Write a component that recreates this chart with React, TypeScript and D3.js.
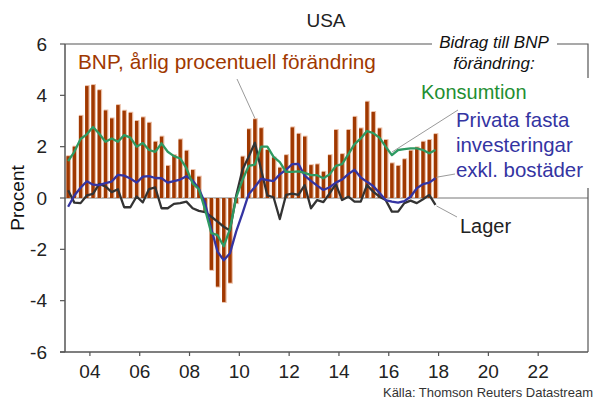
import React, { useEffect, useRef } from 'react';
import * as d3 from 'd3';

// quarterly, 2003Q1 - 2017Q4
const startYear = 2003;
const gdp = [
  1.63, 2.0, 3.2, 4.36,
  4.4, 4.2, 3.41, 3.1,
  3.62, 3.4, 3.32, 3.0,
  3.14, 2.93, 2.19, 2.39,
  1.25, 1.67, 2.28, 1.84,
  1.09, 0.83, -0.5, -2.8,
  -3.45, -4.05, -3.3, -0.2,
  1.61, 2.68, 3.07, 2.72,
  1.87, 1.58, 1.18, 1.67,
  2.75, 2.5, 2.39, 1.28,
  1.31, 1.02, 1.67, 2.65,
  1.71, 2.65, 3.16, 2.71,
  3.75, 3.35, 2.71, 2.26,
  1.35, 1.25, 1.51, 1.84,
  1.97, 2.19, 2.26, 2.49,
];
const konsumtion = [
  1.44, 1.8, 2.3, 2.48,
  2.77, 2.5, 2.19, 2.32,
  2.19, 2.45, 2.35, 2.0,
  2.14, 1.87, 1.8, 2.13,
  1.8, 1.63, 1.54, 1.16,
  0.57, 0.34, -0.45, -1.37,
  -1.45, -1.88, -1.2, 0.02,
  0.7, 1.25, 1.3, 2.0,
  2.0, 1.6, 1.4, 1.02,
  1.02, 1.04, 0.98, 0.89,
  0.89, 0.77, 0.92, 1.25,
  1.32, 1.7, 2.1, 2.32,
  2.61, 2.53, 2.35, 2.0,
  1.67, 1.87, 1.9, 1.93,
  1.93, 1.87, 1.74, 1.87,
];
const investeringar = [
  -0.34, 0.1, 0.4, 0.65,
  0.52, 0.5, 0.58, 0.64,
  0.9, 0.87, 0.76, 0.6,
  0.83, 0.85, 0.78, 0.77,
  0.6, 0.66, 0.72, 0.85,
  0.68, 0.36, -0.2, -1.2,
  -2.09, -2.43, -2.15, -1.3,
  -0.6, 0.15, 0.43, 0.75,
  0.7, 0.66, 0.92, 1.1,
  1.32, 1.33, 0.87, 0.67,
  0.48, 0.31, 0.42, 0.6,
  0.72, 0.93, 1.1, 0.8,
  0.63, 0.47, 0.2, -0.08,
  -0.14, -0.18, -0.12, 0.05,
  0.38, 0.54, 0.6, 0.77,
];
const lager = [
  0.3, -0.18, -0.2, 0.1,
  0.16, 0.55, 0.45, 0.23,
  0.34, -0.36, -0.36, 0.06,
  -0.17, 0.35, 0.41, -0.4,
  -0.4, -0.23, -0.2, -0.14,
  -0.4, -0.5, -0.55, -0.73,
  -0.92, -1.12, -1.27, 0.1,
  1.1, 1.61, 2.15, 1.1,
  0.1, 0.03, -0.82, 0.12,
  0.17, 0.12, 0.5, -0.4,
  -0.08, -0.16, 0.18, 0.54,
  -0.08, 0.05, -0.14, -0.14,
  0.5, 0.25, 0.05, -0.08,
  -0.53, -0.53, -0.2, -0.1,
  -0.2, -0.05, 0.12, -0.27,
];
const yTicks = [6, 4, 2, 0, -2, -4, -6];
const xTicks = [2004, 2006, 2008, 2010, 2012, 2014, 2016, 2018, 2020, 2022];

const font = 'Liberation Sans, Arial, sans-serif';
const brown = '#a03800';
const green = '#2e9a62';
const blue = '#3434a2';
const dark = '#333333';
const grey = '#9a9a9a';

const App = () => {
  const svgRef = useRef<SVGSVGElement>(null);

  useEffect(() => {
    const svg = d3.select(svgRef.current);
    svg.selectAll('*').remove();

    const left = 65, right = 588, top = 44, bottom = 352;
    const x = d3.scaleLinear().domain([2003, 2024]).range([left, right]);
    const y = d3.scaleLinear().domain([-6, 6]).range([bottom, top]);
    const qx = (i: number) => x(startYear + i * 0.25 + 0.125);

    // zero line
    svg.append('line')
      .attr('x1', left).attr('x2', right)
      .attr('y1', y(0)).attr('y2', y(0))
      .attr('stroke', '#777').attr('stroke-width', 1);

    // bars with light edge
    const bw = 3.4;
    svg.append('g').selectAll('rect')
      .data(gdp)
      .enter()
      .append('rect')
      .attr('x', (d, i) => qx(i) - bw / 2)
      .attr('y', (d) => Math.min(y(d), y(0)) - (d > 0 ? 1 : 0))
      .attr('width', bw + 1.2)
      .attr('height', (d) => Math.abs(y(d) - y(0)) + 1)
      .attr('fill', '#ebbfa6');
    svg.append('g').selectAll('rect')
      .data(gdp)
      .enter()
      .append('rect')
      .attr('x', (d, i) => qx(i) - bw / 2)
      .attr('y', (d) => Math.min(y(d), y(0)))
      .attr('width', bw)
      .attr('height', (d) => Math.abs(y(d) - y(0)))
      .attr('fill', brown);

    const line = d3.line<number>()
      .x((d, i) => qx(i))
      .y((d) => y(d));

    [[lager, dark], [investeringar, blue], [konsumtion, green]].forEach(([vals, col]) => {
      svg.append('path')
        .datum(vals as number[])
        .attr('d', line)
        .attr('fill', 'none')
        .attr('stroke', col as string)
        .attr('stroke-width', 2.3)
        .attr('stroke-linejoin', 'round');
    });

    // frame
    svg.append('line')
      .attr('x1', left).attr('x2', left).attr('y1', top).attr('y2', bottom)
      .attr('stroke', '#555').attr('stroke-width', 1.5);
    svg.append('line')
      .attr('x1', left - 5).attr('x2', right).attr('y1', bottom).attr('y2', bottom)
      .attr('stroke', '#555').attr('stroke-width', 1.5);
    svg.append('line')
      .attr('x1', left).attr('x2', 432).attr('y1', top).attr('y2', top)
      .attr('stroke', '#555').attr('stroke-width', 1.2);
    svg.append('polyline')
      .attr('points', `557,${top} ${right},${top} ${right},78`)
      .attr('fill', 'none').attr('stroke', '#555').attr('stroke-width', 1.2);
    svg.append('line')
      .attr('x1', right).attr('x2', right).attr('y1', 188).attr('y2', bottom)
      .attr('stroke', '#555').attr('stroke-width', 1.2);

    // y axis
    yTicks.forEach((t) => {
      svg.append('line')
        .attr('x1', left - 5).attr('x2', left)
        .attr('y1', y(t)).attr('y2', y(t))
        .attr('stroke', '#555').attr('stroke-width', 1.2);
      svg.append('text')
        .attr('x', 47).attr('y', y(t)).attr('dy', '0.35em')
        .attr('text-anchor', 'end')
        .attr('font-size', 19).attr('fill', '#222')
        .text(t);
    });

    // x axis
    xTicks.forEach((t) => {
      svg.append('line')
        .attr('x1', x(t)).attr('x2', x(t))
        .attr('y1', bottom).attr('y2', bottom + 4)
        .attr('stroke', '#555').attr('stroke-width', 1.2);
      svg.append('text')
        .attr('x', x(t)).attr('y', bottom + 26)
        .attr('text-anchor', 'middle')
        .attr('font-size', 19).attr('fill', '#222')
        .text(String(t % 100).padStart(2, '0'));
    });

    svg.append('text')
      .attr('x', 326).attr('y', 27)
      .attr('text-anchor', 'middle')
      .attr('font-size', 19).attr('fill', '#222')
      .text('USA');

    svg.append('text')
      .attr('transform', `translate(24,${y(0)}) rotate(-90)`)
      .attr('text-anchor', 'middle')
      .attr('font-size', 19).attr('fill', '#111')
      .text('Procent');

    // legend header
    svg.append('text')
      .attr('x', 494).attr('y', 48)
      .attr('text-anchor', 'middle')
      .attr('font-size', 17).attr('font-style', 'italic').attr('fill', '#111')
      .text('Bidrag till BNP');
    svg.append('text')
      .attr('x', 494).attr('y', 69)
      .attr('text-anchor', 'middle')
      .attr('font-size', 17).attr('font-style', 'italic').attr('fill', '#111')
      .text('förändring:');

    // leader lines
    const last = gdp.length - 1;
    const leaders = [
      [237, 79, qx(30), y(gdp[30]) - 1],
      [458, 110, qx(last - 7), y(konsumtion[last - 7]) - 3],
      [455, 174, qx(last) + 1, y(investeringar[last]) - 1],
      [457, 217, qx(last) + 1, y(lager[last]) + 1],
    ];
    leaders.forEach(([x1, y1, x2, y2]) => {
      svg.append('line')
        .attr('x1', x1).attr('y1', y1).attr('x2', x2).attr('y2', y2)
        .attr('stroke', grey).attr('stroke-width', 1);
    });

    const label = (tx: number, ty: number, txt: string, col: string, size = 20) =>
      svg.append('text')
        .attr('x', tx).attr('y', ty)
        .attr('font-size', size).attr('fill', col)
        .text(txt);

    label(78, 69, 'BNP, årlig procentuell förändring', brown, 20.8);
    label(421, 99, 'Konsumtion', '#1f8f32');
    label(456, 127, 'Privata fasta', blue, 20.4);
    label(456, 152, 'investeringar', blue, 20.4);
    label(456, 177, 'exkl. bostäder', blue, 20.4);
    label(460, 233, 'Lager', '#222');

    svg.append('text')
      .attr('x', 593).attr('y', 397)
      .attr('text-anchor', 'end')
      .attr('font-size', 13).attr('fill', '#333')
      .text('Källa: Thomson Reuters Datastream');
  }, []);

  return (
    <div style={{ position: 'fixed', left: 0, top: 0 }}>
      <svg ref={svgRef} width={598} height={400} style={{ display: 'block', background: '#fff', fontFamily: font }} />
    </div>
  );
};

export default App;
